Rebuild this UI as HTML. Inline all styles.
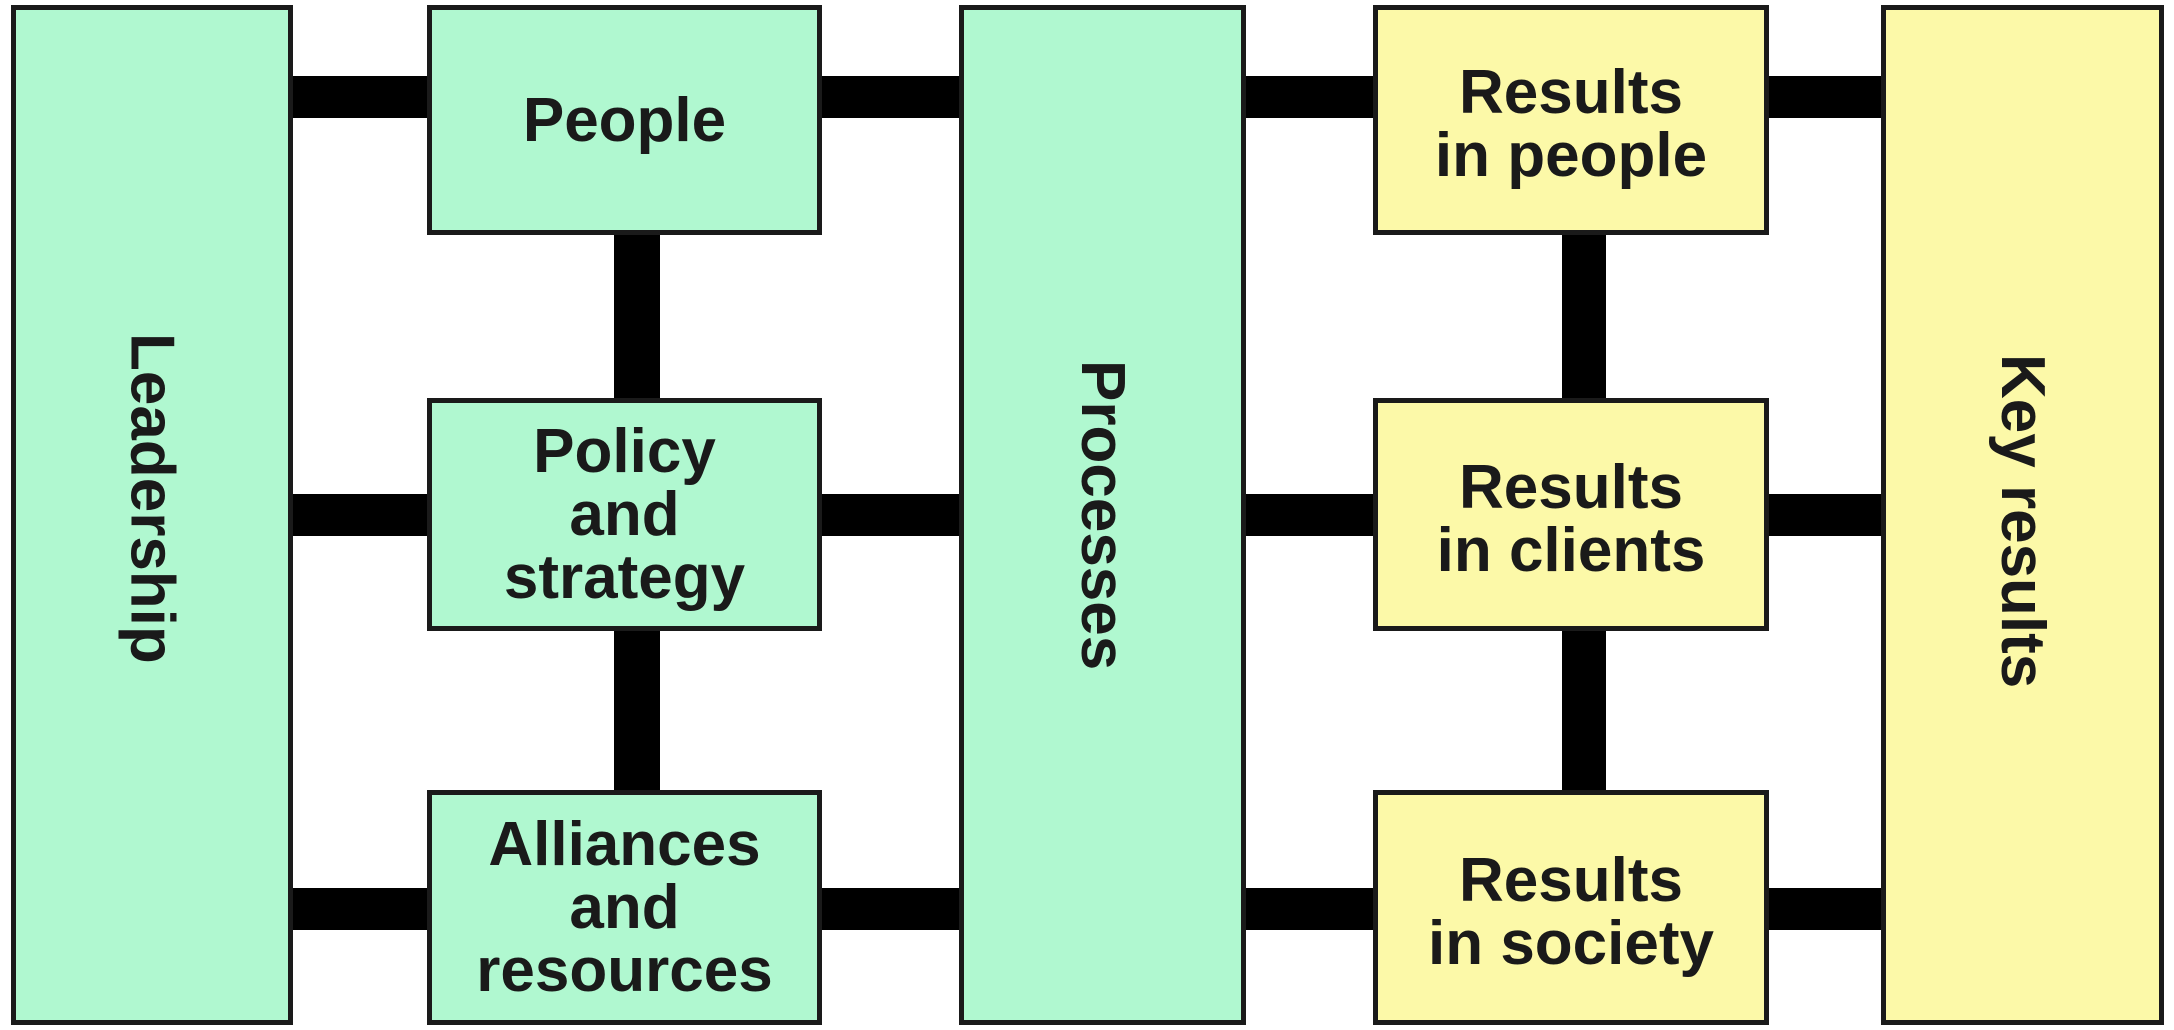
<!DOCTYPE html>
<html><head><style>
body{margin:0;width:2174px;height:1030px;background:#fff;position:relative;overflow:hidden;font-family:"Liberation Sans",Arial,sans-serif;font-weight:bold;color:#1a1a1a}
.b{position:absolute;box-sizing:border-box;border:5px solid #1a1a1a;display:flex;align-items:center;justify-content:center;text-align:center;font-size:62px;line-height:63px}
.g{background:#b0f8d0}.y{background:#fcf9a8}
.c{position:absolute;background:#000}
.v{writing-mode:vertical-rl}
</style></head><body>
<div class="c" style="left:285px;top:76px;width:1600px;height:42px"></div>
<div class="c" style="left:285px;top:494px;width:1600px;height:42px"></div>
<div class="c" style="left:285px;top:888px;width:1600px;height:42px"></div>
<div class="c" style="left:614px;top:220px;width:46px;height:580px"></div>
<div class="c" style="left:1562px;top:220px;width:44px;height:580px"></div>

<div class="b g v" style="left:11px;top:5px;width:282px;height:1020px;padding-bottom:34px">Leadership</div>
<div class="b g" style="left:427px;top:5px;width:395px;height:230px">People</div>
<div class="b g" style="left:427px;top:398px;width:395px;height:233px">Policy<br>and<br>strategy</div>
<div class="b g" style="left:427px;top:790px;width:395px;height:235px">Alliances<br>and<br>resources</div>
<div class="b g v" style="left:959px;top:5px;width:287px;height:1020px">Processes</div>
<div class="b y" style="left:1373px;top:5px;width:396px;height:230px;padding-top:8px">Results<br>in people</div>
<div class="b y" style="left:1373px;top:398px;width:396px;height:233px;padding-top:8px">Results<br>in clients</div>
<div class="b y" style="left:1373px;top:790px;width:396px;height:235px;padding-top:8px">Results<br>in society</div>
<div class="b y v" style="left:1881px;top:5px;width:283px;height:1020px;padding-top:12px">Key results</div>
</body></html>
